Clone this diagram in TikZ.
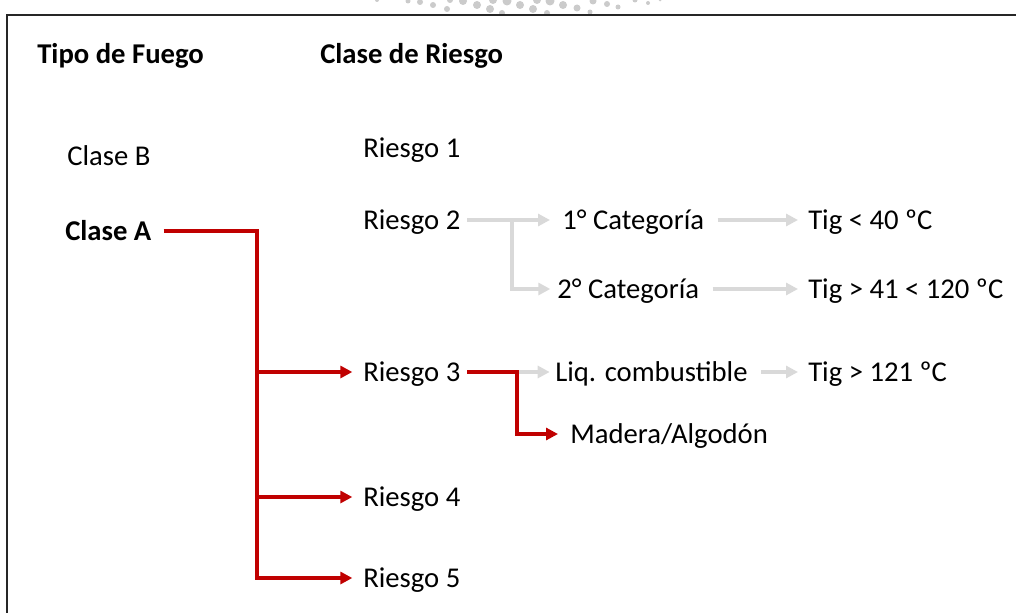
\documentclass[tikz,border=0pt]{standalone}
\usepackage{fontspec}
\setmainfont{Carlito}
\usetikzlibrary{arrows.meta}
\definecolor{dred}{HTML}{C00000}
\definecolor{lgray}{HTML}{D9D9D9}
\definecolor{dotgray}{HTML}{CBCBCB}
\begin{document}
\begin{tikzpicture}[x=0.75pt,y=-0.75pt,
  txt/.style={inner sep=0pt, text height=13.5pt, text depth=0pt, anchor=west, font=\fontsize{21.5}{25}\selectfont},
  btxt/.style={txt, font=\fontsize{21.5}{25}\selectfont\bfseries},
  redline/.style={draw=dred, line width=2.6pt},
  redarr/.style={redline, -{Triangle[length=9pt,width=9pt]}},
  grayarr/.style={draw=lgray, line width=2.6pt, -{Triangle[length=9pt,width=9pt]}}]
\useasboundingbox (0,0) rectangle (1016,613);
% watermark dots
\begin{scope}
\clip (0,0) rectangle (1016,13.5);
\foreach \x/\y/\r in {377/0/2,408/1/2.5,420/2/3,433/5/3,447/9/3,450/0/3,463/1/4,477/5/4,490/9/4,502/13/3,493/0/4,507/1/4.5,520/5/4,533/9/4,547/13/3,537/0/4,550/1/4.5,563/5/4,577/8/3.5,590/12/2.5,593/1/3.5,607/4/3,618/7/2.5,635/0/2.5,648/3/2,660/0/1.5}
  \fill[dotgray] (\x,\y) circle[radius=\r];
\end{scope}
% frame
\draw[line width=2pt, black!85] (7,613) -- (7,15) -- (1016,15);
% texts
\node[btxt] (tf) at (37,55) {Tipo de Fuego};
\node[btxt] (cr) at (320,55) {Clase de Riesgo};
\node[txt] (cb) at (67,157) {Clase B};
\node[btxt] (ca) at (65,231) {Clase A};
\node[txt] (r1) at (363,148) {Riesgo 1};
\node[txt] (r2) at (363,220) {Riesgo 2};
\node[txt] (c1) at (562,220) {1° Categoría};
\node[txt] (t1) at (808,220) {Tig < 40 ºC};
\node[txt] (c2) at (557,289) {2° Categoría};
\node[txt] (t2) at (808,289) {Tig > 41 < 120 ºC};
\node[txt] (r3) at (363,372) {Riesgo 3};
\node[txt] (lq) at (555,372) {Liq. combustible};
\node[txt] (t3) at (808,372) {Tig > 121 ºC};
\node[txt] (ma) at (570,434) {Madera/Algodón};
\node[txt] (r4) at (363,497) {Riesgo 4};
\node[txt] (r5) at (363,578) {Riesgo 5};
% branch points
\coordinate (bA) at (257,231);
\coordinate (b2) at (512,220);
\coordinate (b3) at (517,372);
% gray connectors
\draw[grayarr] ([xshift=5pt]r2.east) -- ([xshift=-9pt]c1.west);
\draw[grayarr] (b2) |- ([xshift=-5pt]c2.west);
\draw[grayarr] ([xshift=10pt]c1.east) -- ([xshift=-7.5pt]t1.west);
\draw[grayarr] ([xshift=10pt]c2.east) -- ([xshift=-7.5pt]t2.west);
\draw[grayarr] (b3) -- ([xshift=-4pt]lq.west);
\draw[grayarr] ([xshift=10pt]lq.east) -- ([xshift=-7.5pt]t3.west);
% red connectors
\draw[redarr] ([xshift=9pt]ca.east) -- (ca.east -| bA) |- ([xshift=-8pt]r5.west);
\draw[redarr] (bA |- r3.west) -- ([xshift=-8pt]r3.west);
\draw[redarr] (bA |- r4.west) -- ([xshift=-8pt]r4.west);
\draw[redarr] ([xshift=5pt]r3.east) -- (b3) |- ([xshift=-9pt]ma.west);
\end{tikzpicture}
\end{document}
